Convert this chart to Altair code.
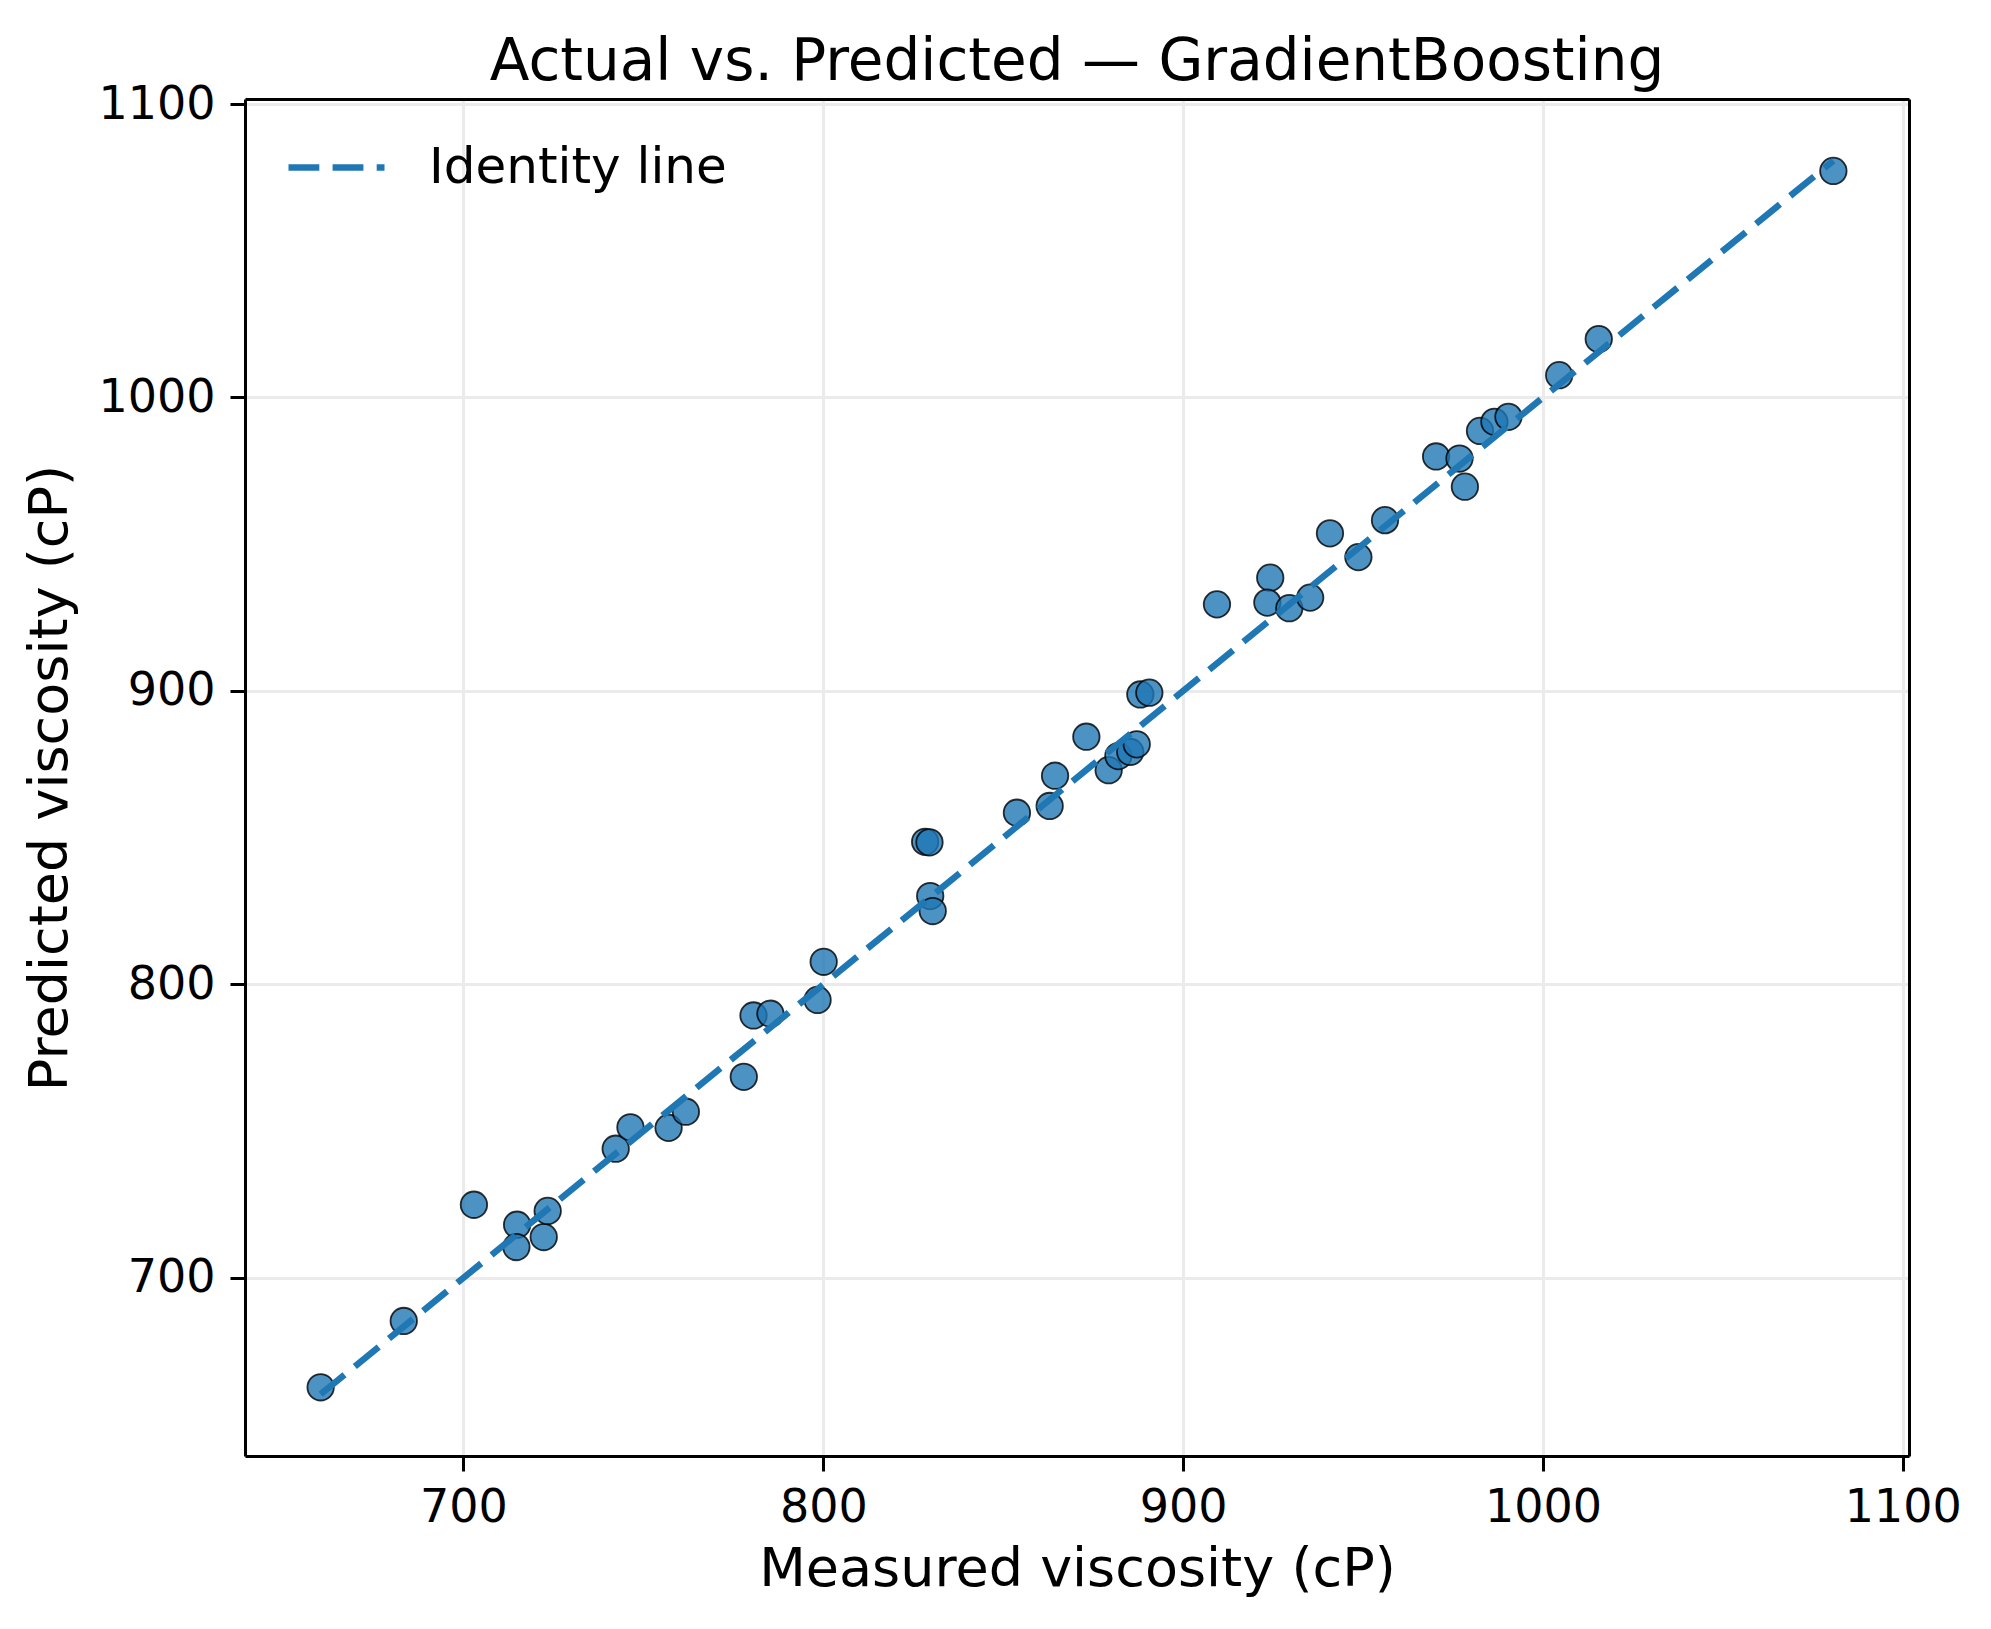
import altair as alt
import pandas as pd

# Measured viscosity (cP)
measured = [660.3, 683.4, 702.9, 714.9, 714.7, 722.3, 723.4, 742.3, 746.4, 757.0,
            761.8, 777.9, 780.6, 785.3, 798.4, 800.1, 828.3, 829.5, 829.7, 830.4,
            853.8, 862.9, 864.4, 873.1, 879.3, 882.0, 885.3, 887.1, 888.1, 890.6,
            909.4, 924.2, 923.4, 929.5, 935.3, 940.8, 948.7, 956.1, 970.3, 976.8,
            978.3, 982.5, 986.5, 990.4, 1004.5, 1015.5, 1080.7]
# Predicted viscosity (cP)
predicted = [662.7, 685.3, 724.9, 718.1, 710.5, 713.9, 722.8, 744.0, 751.3, 751.1,
             756.6, 768.5, 789.4, 790.0, 794.7, 807.7, 848.6, 848.4, 830.1, 825.0,
             858.5, 860.8, 871.1, 884.4, 873.0, 877.8, 879.2, 881.8, 898.8, 899.4,
             929.5, 938.6, 930.1, 928.2, 931.8, 953.7, 945.6, 958.2, 979.9, 979.2,
             969.6, 988.6, 991.7, 993.4, 1007.6, 1019.9, 1077.2]
tick_values = [700, 800, 900, 1000, 1100]
series_name = "Identity line"

lo = min(min(measured), min(predicted))
hi = max(max(measured), max(predicted))
pad = 0.05 * (hi - lo)
dom = [lo - pad, hi + pad]

pts = pd.DataFrame({"measured": measured, "predicted": predicted})
line_df = pd.DataFrame({"measured": [lo, hi], "predicted": [lo, hi],
                        "series": [series_name, series_name]})

FONT = "DejaVu Sans"
BLUE = "#1f77b4"

xscale = alt.Scale(domain=dom, nice=False, zero=False)
yscale = alt.Scale(domain=dom, nice=False, zero=False)

xaxis = alt.Axis(title="Measured viscosity (cP)", values=tick_values, format="d",
                 titleFontSize=54, titleFont=FONT, titleFontWeight="normal",
                 titleColor="black", titlePadding=12,
                 labelFontSize=46, labelFont=FONT, labelColor="black", labelPadding=14,
                 tickSize=15, tickWidth=3, tickColor="black",
                 domainColor="black", domainWidth=3,
                 gridColor="#ebebeb", gridWidth=3)
yaxis = alt.Axis(title="Predicted viscosity (cP)", values=tick_values, format="d",
                 titleFontSize=54, titleFont=FONT, titleFontWeight="normal",
                 titleColor="black", titlePadding=20,
                 labelFontSize=46, labelFont=FONT, labelColor="black", labelPadding=15,
                 tickSize=15, tickWidth=3, tickColor="black",
                 domainColor="black", domainWidth=3,
                 gridColor="#ebebeb", gridWidth=3)
# plain spines on the top and right edges
xaxis_top = alt.Axis(orient="top", title=None, labels=False, ticks=False, grid=False,
                     domainColor="black", domainWidth=3)
yaxis_right = alt.Axis(orient="right", title=None, labels=False, ticks=False, grid=False,
                       domainColor="black", domainWidth=3)

scatter = alt.Chart(pts).mark_circle(
    size=700, color=BLUE, fillOpacity=0.8, stroke="black", strokeWidth=1.8, strokeOpacity=0.8
).encode(
    x=alt.X("measured:Q", scale=xscale, axis=xaxis),
    y=alt.Y("predicted:Q", scale=yscale, axis=yaxis),
)

identity = alt.Chart(line_df).mark_line(
    strokeDash=[30.8, 13.3], strokeWidth=6.5
).encode(
    x=alt.X("measured:Q", scale=xscale, axis=xaxis_top),
    y=alt.Y("predicted:Q", scale=yscale, axis=yaxis_right),
    color=alt.Color("series:N",
                    scale=alt.Scale(domain=[series_name], range=[BLUE]),
                    legend=alt.Legend(title=None, orient="none", legendX=40, legendY=17,
                                      symbolType="stroke", symbolSize=9216,
                                      symbolStrokeWidth=6.5, symbolDash=[30.8, 13.3],
                                      labelFontSize=50, labelFont=FONT, labelColor="black",
                                      labelOffset=41, labelLimit=1000, padding=0)),
)

chart = alt.layer(scatter, identity).resolve_axis(
    x="independent", y="independent"
).properties(
    width=1664, height=1357,
    title=alt.TitleParams("Actual vs. Predicted — GradientBoosting", fontSize=58,
                          font=FONT, fontWeight="normal", color="black",
                          anchor="middle", baseline="alphabetic", offset=23,
                          frame="group", dy=80),
    autosize=alt.AutoSizeParams(type="none"),
    padding={"left": 237, "top": 91, "right": 74, "bottom": 165},
).configure_view(stroke="black", strokeWidth=3).configure(background="white")

chart.save("out.html", embed_options={"renderer": "svg", "actions": False})
